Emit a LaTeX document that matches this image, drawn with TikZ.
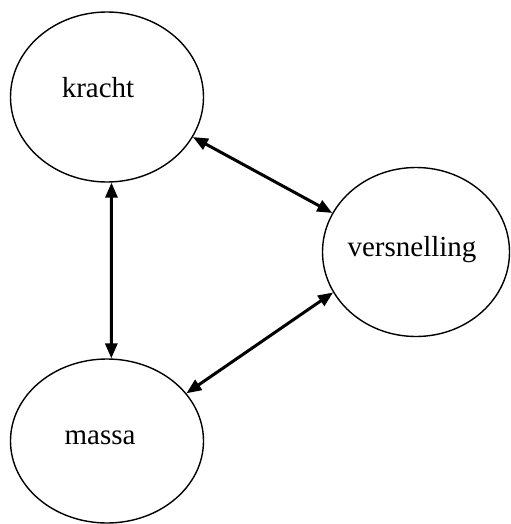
\documentclass[tikz,border=0pt]{standalone}
\usepackage{fontspec}
\setmainfont{Liberation Serif}
\usetikzlibrary{shapes.geometric,arrows.meta}

\begin{document}
\begin{tikzpicture}[x=0.5pt,y=-0.5pt,
    quantity/.style={ellipse, draw, line width=0.7pt, inner sep=0pt,
      font=\fontsize{14.5}{17}\selectfont},
    link/.style={line width=1.5pt, {Triangle[length=7.5pt,width=6pt]}-{Triangle[length=7.5pt,width=6pt]}}
    ]
\useasboundingbox (0,0) rectangle (510,524);
\node[quantity, minimum width=96.5pt, minimum height=85pt,
  label={[xshift=-4.5pt,yshift=4.5pt,font=\fontsize{14.5}{17}\selectfont]center:kracht}] (K) at (107,97) {};
\node[quantity, minimum width=93.5pt, minimum height=84.5pt,
  label={[xshift=-2pt,yshift=1pt,font=\fontsize{14.5}{17}\selectfont]center:versnelling}] (V) at (416,252) {};
\node[quantity, minimum width=96.5pt, minimum height=82pt,
  label={[xshift=-3.5pt,yshift=1.5pt,font=\fontsize{14.5}{17}\selectfont]center:massa}] (M) at (107,441) {};
\draw[link] (K.-87) -- (M.87);
\draw[link] (K.-25) -- (V.155);
\draw[link] (M.31) -- (V.206);
\end{tikzpicture}
\end{document}
